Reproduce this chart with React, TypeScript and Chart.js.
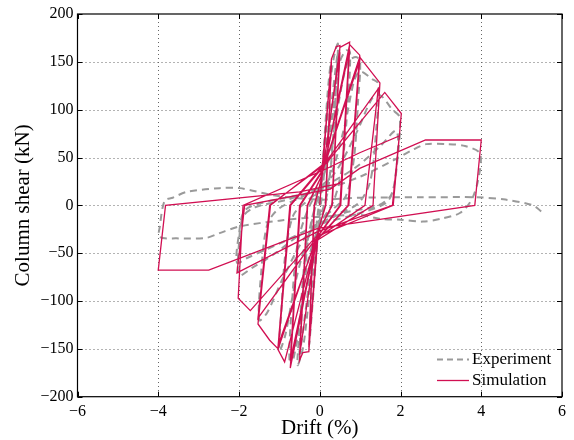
import React, { useEffect, useRef } from "react";
import { Chart, registerables } from "chart.js";

Chart.register(...registerables);

const xTicks = [-6, -4, -2, 0, 2, 4, 6];
const yTicks = [-200, -150, -100, -50, 0, 50, 100, 150, 200];
const seriesNames = ["Experiment", "Simulation"];
const xTitle = "Drift (%)";
const yTitle = "Column shear (kN)";

// Simulation (drift %, shear kN)
const simDrift = [
  0, 0.29, 0.14, -0.03, -0.27, -0.13, 0.03, 0.29, 0.15, -0.04, -0.27, -0.14, 0.04,
  0.29, 0.41, 0.5, 0.3, -0.06, -0.27, -0.42, -0.5, -0.3, 0.06, 0.5, 0.31, -0.07, -0.5, -0.31, 0.07,
  0.5, 0.74, 0.5, -0.08, -0.73, -0.48, 0.09, 0.74, 0.52, -0.09, -0.73, -0.5, 0.1,
  0.74, 0.99, 0.7, -0.1, -0.87, -1.03, -0.72, 0.12, 0.99, 0.72, -0.11, -1.03, -0.74, 0.13,
  0.99, 1.49, 1.32, -0.12, -1.03, -1.24, -1.53, -1.22, 0.15, 1.45, 1.12, -0.12, -1.53, -1.24, 0.16,
  1.61, 2.02, 1.82, -0.1, -1.72, -2.02, -1.9, 0.15, 0.99, 1.97, 1.8, -0.08, -2.05, -1.86, 0.26, 0.99,
  2.62, 4.0, 3.84, 1.49, -0.05, -2.75, -4.0, -3.82, -0.5, 0.5,
];
const simShear = [
  0, 153, 0, -25, -152, 0, 25, 150, 0, -26, -148, 0, 27,
  153, 166, 167, 0, -30, -153, -154, -162, 0, 32, 160, 0, -31, -157, 0, 33,
  165, 170.5, 0, -34, -170, 0, 37, 163, 0, -35, -163, 0, 39,
  168, 157, 0, -37, -163.6, -151, 0, 42, 151, 0, -38, -146, 0, 44,
  155, 128, 0, -38, -150, -141, -124, 0, 45, 122, 0, -36, -118, 0, 44,
  118, 96, 0, -33, -110, -97, 0, 38, 55, 72.5, 0, -28, -70.5, 0, 17, 38.6,
  68.3, 68.3, 0, -14.6, -24, -67.7, -67.7, 0, 14, 23,
];

// Experiment (drift %, shear kN)
const expDrift = [
  0, 0.1, 0.2, 0.27, 0.2, 0.1, 0, -0.1, -0.2, -0.26, -0.2, -0.1, 0, 0.1,
  0.2, 0.35, 0.45, 0.42, 0.33, 0.2, 0, -0.15, -0.3, -0.42, -0.55, -0.5, -0.38, -0.2, 0, 0.15, 0.3, 0.45,
  0.4, 0.3, 0.15, 0, -0.2, -0.35, -0.5, -0.44, -0.3, -0.1, 0.1, 0.3,
  0.5, 0.65, 0.75, 0.7, 0.55, 0.35, 0, -0.3, -0.5, -0.65, -0.75, -0.7, -0.55, -0.3, 0, 0.3, 0.5,
  0.7, 0.9, 1.0, 0.95, 0.85, 0.65, 0.3, -0.2, -0.6, -0.85, -1.0, -0.95, -0.85, -0.65, -0.3, 0.2, 0.6, 0.85,
  1.0, 1.3, 1.45, 1.4, 1.25, 0.95, 0.4, -0.3, -0.9, -1.3, -1.5, -1.45, -1.3, -1.0, -0.4, 0.3, 0.9, 1.3,
  1.5, 1.8, 1.98, 1.93, 1.78, 1.45, 0.6, -0.3, -1.1, -1.7, -2.0, -2.0, -1.9, -1.6, -0.8, 0.1, 0.9, 1.5, 1.9,
  1.9, 1.7, 1.0, 0, -1.0, -1.8, -2.05, -2.0, -1.85, -1.2, 0, 1.0, 1.82,
  2.3, 2.64, 3.14, 3.6, 3.97, 3.92, 3.75, 3.47, 3.0, 2.55, 2.0, 1.49, 1.0, 0, -1.0, -1.98, -2.48,
  -2.81, -3.55, -3.97, -3.96, -3.84, -3.64, -3.3, -2.48, -1.98, -1.07, 0, 1.0, 2.5, 3.9, 4.6, 5.28, 5.53,
];
const expShear = [
  0, 60, 120, 148, 100, 30, -10, -60, -115, -145, -100, -30, 10, 55,
  110, 155, 169, 140, 70, 15, -15, -50, -110, -150, -167, -130, -60, -15, 15, 50, 110, 160,
  120, 50, 5, -20, -60, -110, -155, -110, -40, 0, 30, 90,
  150, 162, 160, 110, 40, 5, -20, -60, -120, -160, -162, -110, -40, -5, 20, 60, 115,
  150, 155, 150, 110, 50, 10, -5, -25, -80, -135, -152, -110, -50, -10, 5, 25, 80, 130,
  140, 132, 127, 80, 25, 2, -10, -30, -75, -112, -120, -70, -20, -3, 10, 30, 75, 112,
  115, 100, 92, 50, 12, 0, -8, -25, -50, -66, -73, -40, -12, -2, 6, 20, 40, 62, 78,
  40, 5, -8, -20, -40, -55, -60, -30, -5, 5, 15, 30, 47,
  58, 64, 64, 62, 54, 26, 5, -8, -14, -17, -15, -14, -10, -12, -16, -22, -29,
  -34, -34.5, -33, -22, 5, 8, 14, 18, 18, 10, 6, 8, 8.4, 8.4, 6, 0, -8,
];

const SIM_COLOR = "#d10f52";
const EXP_COLOR = "#9a9a9a";
const FONT = "'Liberation Serif', 'Times New Roman', serif";

const toPoints = (xs: number[], ys: number[]) => {
  const n = Math.min(xs.length, ys.length);
  const out: { x: number; y: number }[] = [];
  for (let i = 0; i < n; i++) out.push({ x: xs[i], y: ys[i] });
  return out;
};

const fmt = (v: number) => (v < 0 ? "\u2212" + Math.abs(v) : String(v));

const framePlugin = {
  id: "matlabFrame",
  beforeDatasetsDraw(chart: any) {
    const { ctx, chartArea: a, scales } = chart;
    const x = scales.x;
    const y = scales.y;
    ctx.save();
    ctx.strokeStyle = "#666";
    ctx.lineWidth = 1;
    ctx.setLineDash([1, 3]);
    xTicks.forEach((v) => {
      if (v === xTicks[0] || v === xTicks[xTicks.length - 1]) return;
      const px = Math.round(x.getPixelForValue(v)) + 0.5;
      ctx.beginPath();
      ctx.moveTo(px, a.top);
      ctx.lineTo(px, a.bottom);
      ctx.stroke();
    });
    yTicks.forEach((v) => {
      if (v === yTicks[0] || v === yTicks[yTicks.length - 1]) return;
      const py = Math.round(y.getPixelForValue(v)) + 0.5;
      ctx.beginPath();
      ctx.moveTo(a.left, py);
      ctx.lineTo(a.right, py);
      ctx.stroke();
    });
    ctx.restore();
  },
  afterDraw(chart: any) {
    const { ctx, chartArea: a, scales } = chart;
    const x = scales.x;
    const y = scales.y;
    ctx.save();
    ctx.setLineDash([]);
    ctx.strokeStyle = "#000";
    ctx.lineWidth = 1.2;
    ctx.strokeRect(a.left, a.top, a.right - a.left, a.bottom - a.top);
    ctx.lineWidth = 1;
    const tl = 5;
    xTicks.forEach((v) => {
      const px = Math.round(x.getPixelForValue(v)) + 0.5;
      ctx.beginPath();
      ctx.moveTo(px, a.bottom);
      ctx.lineTo(px, a.bottom - tl);
      ctx.moveTo(px, a.top);
      ctx.lineTo(px, a.top + tl);
      ctx.stroke();
    });
    yTicks.forEach((v) => {
      const py = Math.round(y.getPixelForValue(v)) + 0.5;
      ctx.beginPath();
      ctx.moveTo(a.left, py);
      ctx.lineTo(a.left + tl, py);
      ctx.moveTo(a.right, py);
      ctx.lineTo(a.right - tl, py);
      ctx.stroke();
    });
    ctx.fillStyle = "#000";
    ctx.font = `21px ${FONT}`;
    ctx.textAlign = "center";
    ctx.textBaseline = "middle";
    ctx.fillText(xTitle, (a.left + a.right) / 2, 428);
    ctx.save();
    ctx.translate(23, (a.top + a.bottom) / 2);
    ctx.rotate(-Math.PI / 2);
    ctx.fillText(yTitle, 0, 0);
    ctx.restore();
    const lx0 = 437;
    const lx1 = 469;
    const rows = [359.5, 380.5];
    ctx.font = `17px ${FONT}`;
    ctx.textAlign = "left";
    ctx.textBaseline = "middle";
    ctx.strokeStyle = EXP_COLOR;
    ctx.lineWidth = 2;
    ctx.setLineDash([6, 4]);
    ctx.beginPath();
    ctx.moveTo(lx0, rows[0]);
    ctx.lineTo(lx1, rows[0]);
    ctx.stroke();
    ctx.setLineDash([]);
    ctx.fillText(seriesNames[0], 472, rows[0]);
    ctx.strokeStyle = SIM_COLOR;
    ctx.lineWidth = 1.3;
    ctx.beginPath();
    ctx.moveTo(lx0, rows[1]);
    ctx.lineTo(lx1, rows[1]);
    ctx.stroke();
    ctx.fillText(seriesNames[1], 472, rows[1]);
    ctx.restore();
  },
};

export default function App() {
  const ref = useRef<HTMLCanvasElement>(null);
  useEffect(() => {
    const canvas = ref.current;
    if (!canvas) return;
    const chart = new Chart(canvas, {
      type: "scatter",
      data: {
        datasets: [
          {
            label: seriesNames[1],
            data: toPoints(simDrift, simShear),
            showLine: true,
            borderColor: SIM_COLOR,
            backgroundColor: SIM_COLOR,
            borderWidth: 1.3,
            pointRadius: 0,
            tension: 0,
            order: 0,
          },
          {
            label: seriesNames[0],
            data: toPoints(expDrift, expShear),
            showLine: true,
            borderColor: EXP_COLOR,
            backgroundColor: EXP_COLOR,
            borderWidth: 2,
            borderDash: [7, 5],
            pointRadius: 0,
            tension: 0.3,
            order: 1,
          },
        ],
      },
      options: {
        responsive: false,
        animation: false,
        devicePixelRatio: 1,
        layout: { padding: { top: 14, right: 12, left: 0, bottom: 0 } },
        plugins: { legend: { display: false }, tooltip: { enabled: false } },
        scales: {
          x: {
            type: "linear",
            min: -6,
            max: 6,
            grid: { display: false, drawTicks: false },
            border: { display: false },
            ticks: {
              stepSize: 2,
              padding: 5,
              color: "#000",
              font: { family: FONT, size: 16 },
              callback: (v: any) => fmt(Number(v)),
            },
            afterFit: (s: any) => {
              s.height = 43.3;
            },
          },
          y: {
            type: "linear",
            min: -200,
            max: 200,
            grid: { display: false, drawTicks: false },
            border: { display: false },
            ticks: {
              stepSize: 50,
              padding: 4,
              color: "#000",
              font: { family: FONT, size: 16 },
              callback: (v: any) => fmt(Number(v)),
            },
            afterFit: (s: any) => {
              s.width = 77.5;
            },
          },
        },
      },
      plugins: [framePlugin],
    } as any);
    return () => chart.destroy();
  }, []);
  return (
    <div style={{ position: "fixed", left: 0, top: 0, width: 574, height: 440, background: "#fff" }}>
      <canvas ref={ref} width={574} height={440} style={{ display: "block", width: 574, height: 440 }} />
    </div>
  );
}
